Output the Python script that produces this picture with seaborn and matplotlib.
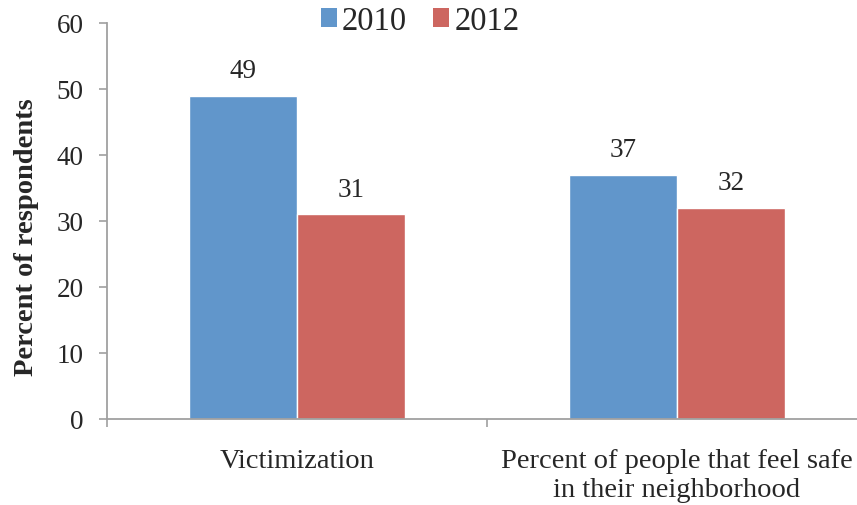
import pandas as pd
import matplotlib
matplotlib.use("Agg")
import matplotlib.pyplot as plt
import seaborn as sns
from matplotlib.patches import Patch

# data
categories = ["Victimization", "Percent of people that feel safe\nin their neighborhood"]
years = ["2010", "2012"]
values_2010 = [49, 37]
values_2012 = [31, 32]
colors = ["#6196CB", "#CD6660"]

df = pd.DataFrame({
    "category": categories * 2,
    "year": [years[0]] * 2 + [years[1]] * 2,
    "value": values_2010 + values_2012,
})

sns.set_style("white")
plt.rcParams["font.family"] = ["Liberation Serif", "DejaVu Serif"]

fig = plt.figure(figsize=(8.57, 5.06), dpi=100)
ax = fig.add_axes([0.1249, 0.170, 0.8868, 0.7826])

sns.barplot(data=df, x="category", y="value", hue="year", palette=colors,
            width=0.57, saturation=1, gap=0, ax=ax, legend=False)

for cont in ax.containers:
    ax.bar_label(cont, fmt="%d", padding=9, fontsize=19.5)

ax.set_ylim(0, 60)
ax.set_xlim(-0.5, 1.5)
ax.set_yticks(range(0, 61, 10))
ax.tick_params(axis="y", labelsize=19.5, length=6, width=1.2, color="#A0A0A0",
               direction="out", pad=11, left=True)
ax.tick_params(axis="x", labelsize=20.5, length=0, pad=21)
for lab in ax.get_xticklabels():
    lab.set_linespacing(1.2)
ax.set_xticks([-0.5, 0.5, 1.5], minor=True)
ax.tick_params(axis="x", which="minor", length=6, width=1.2, color="#A0A0A0",
               direction="out", bottom=True)

for side in ["top", "right"]:
    ax.spines[side].set_visible(False)
for side in ["left", "bottom"]:
    ax.spines[side].set_color("#A0A0A0")
    ax.spines[side].set_linewidth(1.3)

ax.set_xlabel("")
ax.set_ylabel("Percent of respondents", fontsize=20.5, fontweight="bold")
ax.yaxis.set_label_coords(-0.09, 0.463)

handles = [Patch(facecolor=c, edgecolor="none") for c in colors]
fig.legend(handles, years, loc="center", bbox_to_anchor=(0.49, 0.957), ncol=2,
           frameon=False, fontsize=23.5, handlelength=0.5, handleheight=0.5,
           handletextpad=0.15, columnspacing=0.8)

fig.savefig("out.png", dpi=100)
